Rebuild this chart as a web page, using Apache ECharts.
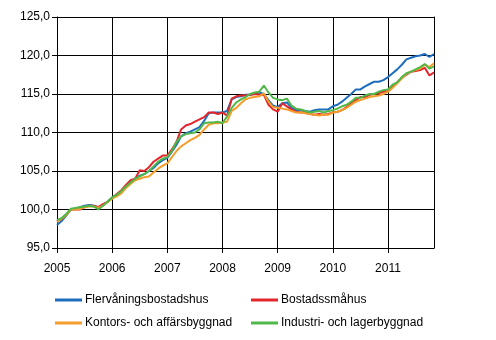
<!DOCTYPE html>
<html>
<head>
<meta charset="utf-8">
<script src="https://cdn.jsdelivr.net/npm/echarts@6/dist/echarts.min.js"></script>
<style>
  html, body { margin: 0; padding: 0; background: #fff; }
  #chart { width: 496px; height: 340px; }
</style>
</head>
<body>
<div id="chart"></div>
<script>
// Building cost index, monthly, 2005M01 - 2011M11 (2005 = 100)
const years = ['2005', '2006', '2007', '2008', '2009', '2010', '2011'];
const lastYearMonths = 11;

const flervaningsbostadshus = [
  98.0, 98.5, 99.2, 100.0, 100.1, 100.3, 100.5, 100.6, 100.5, 100.3, 100.6, 101.0,
  101.5, 101.9, 102.4, 103.0, 103.6, 104.0, 104.4, 104.6, 105.0, 105.4, 106.0, 106.4,
  106.7, 107.5, 108.4, 109.5, 109.9, 110.1, 110.4, 110.7, 111.5, 112.5, 112.6, 112.6,
  112.6, 112.8, 114.3, 114.6, 114.7, 114.9, 114.9, 115.0, 115.2, 115.0, 114.2, 113.5,
  113.3, 113.8, 113.9, 113.2, 112.9, 112.9, 112.8, 112.7, 112.9, 113.0, 113.0, 113.0,
  113.4, 113.6, 114.0, 114.5, 115.0, 115.6, 115.6, 116.0, 116.3, 116.6, 116.6, 116.8,
  117.2, 117.7, 118.2, 118.8, 119.5, 119.7, 119.9, 120.0, 120.2, 119.8, 120.2
];
const bostadssmahus = [
  98.5, 98.8, 99.3, 100.0, 100.0, 100.0, 100.3, 100.5, 100.5, 100.3, 100.7, 101.0,
  101.5, 102.0, 102.5, 103.2, 103.8, 104.0, 105.1, 105.0, 105.5, 106.2, 106.6, 107.0,
  107.0, 107.8, 108.8, 110.4, 110.9, 111.1, 111.4, 111.7, 112.0, 112.6, 112.6, 112.4,
  112.6, 112.2, 114.4, 114.7, 114.8, 114.8, 114.9, 115.0, 114.9, 114.9, 113.6, 113.0,
  112.7, 113.8, 113.4, 113.0, 112.7, 112.6, 112.6, 112.4, 112.3, 112.4, 112.3, 112.4,
  112.6, 112.7, 112.9, 113.3, 113.8, 114.2, 114.6, 114.6, 114.9, 115.0, 115.1, 115.3,
  115.4, 115.9, 116.5, 117.1, 117.5, 117.9, 118.0, 118.1, 118.4, 117.4, 117.8
];
const kontorsOchAffarsbyggnad = [
  98.4, 98.8, 99.3, 100.0, 100.0, 100.1, 100.3, 100.4, 100.4, 100.2, 100.5, 101.0,
  101.4, 101.7, 102.1, 102.8, 103.3, 103.8, 104.0, 104.2, 104.3, 104.8, 105.3, 105.7,
  106.0, 106.8, 107.6, 108.2, 108.6, 109.0, 109.3, 109.7, 110.4, 111.0, 111.2, 111.2,
  111.3, 111.4, 112.8, 113.2, 113.8, 114.3, 114.5, 114.6, 114.7, 115.1, 114.0, 113.3,
  113.2, 113.1, 113.0, 112.8, 112.6, 112.6, 112.5, 112.4, 112.3, 112.2, 112.3, 112.3,
  112.6, 112.7, 112.9, 113.2, 113.6, 114.0, 114.2, 114.4, 114.6, 114.7, 114.8, 115.0,
  115.3, 115.8, 116.4, 117.0, 117.6, 117.9, 118.1, 118.3, 118.8, 118.5, 119.0
];
const industriOchLagerbyggnad = [
  98.6, 98.9, 99.4, 100.1, 100.2, 100.3, 100.4, 100.5, 100.4, 100.0, 100.5, 101.0,
  101.6, 101.9, 102.4, 103.0, 103.5, 104.0, 104.3, 104.6, 105.0, 105.6, 106.2, 106.6,
  106.8, 107.6, 108.8, 109.5, 109.8, 109.9, 110.0, 110.4, 111.2, 111.3, 111.3, 111.4,
  111.2, 112.1, 113.2, 113.9, 114.3, 114.6, 115.0, 115.2, 115.3, 116.1, 115.2, 114.5,
  114.3, 114.2, 114.4, 113.5, 113.1, 113.0, 112.8, 112.6, 112.7, 112.8, 112.6, 112.8,
  112.9, 113.1, 113.4, 113.6, 114.0, 114.5, 114.5, 114.8, 115.0, 115.0, 115.3, 115.5,
  115.6, 116.2, 116.5, 117.2, 117.7, 117.9, 118.2, 118.5, 118.9, 118.3, 118.6
];

const seriesNames = [
  'Flervåningsbostadshus',
  'Bostadssmåhus',
  'Kontors- och affärsbyggnad',
  'Industri- och lagerbyggnad'
];
const seriesColors = ['#1c6dbd', '#e2262b', '#f59d2a', '#50b848'];
const seriesValues = [
  flervaningsbostadshus,
  bostadssmahus,
  kontorsOchAffarsbyggnad,
  industriOchLagerbyggnad
];

// Month categories, e.g. "2005M01"
const categories = [];
years.forEach((y, i) => {
  const n = i === years.length - 1 ? lastYearMonths : 12;
  for (let m = 1; m <= n; m++) categories.push(y + 'M' + String(m).padStart(2, '0'));
});
const atYearStart = (idx) => idx % 12 === 0;

const font = 'Liberation Sans, Arial, sans-serif';
const chart = echarts.init(document.getElementById('chart'), null, { renderer: 'canvas' });

const legendBase = {
  orient: 'vertical', top: 294, padding: 0,
  itemWidth: 27, itemHeight: 3, itemGap: 11,
  icon: 'rect',
  textStyle: { color: '#000', fontFamily: font, fontSize: 12, padding: [0, 0, 0, -2] }
};

chart.setOption({
  animation: false,
  backgroundColor: '#ffffff',
  grid: { left: 57, right: 62, top: 17, bottom: 92, containLabel: false },
  xAxis: {
    type: 'category',
    data: categories,
    boundaryGap: false,
    axisLine: { show: true, lineStyle: { color: '#000', width: 1 } },
    axisTick: { show: true, inside: false, length: 5, interval: atYearStart, lineStyle: { color: '#000' } },
    axisLabel: {
      interval: atYearStart,
      formatter: (v) => v.slice(0, 4),
      color: '#000', fontFamily: font, fontSize: 12, margin: 15
    },
    splitLine: { show: true, interval: atYearStart, lineStyle: { color: '#000', width: 1 } }
  },
  yAxis: [
    {
      type: 'value',
      min: 95, max: 125, interval: 5,
      axisLine: { show: true, lineStyle: { color: '#000', width: 1 } },
      axisTick: { show: true, inside: false, length: 5, lineStyle: { color: '#000' } },
      axisLabel: {
        formatter: (v) => v.toFixed(1).replace('.', ','),
        color: '#000', fontFamily: font, fontSize: 12, margin: 7
      },
      splitLine: { show: true, lineStyle: { color: '#000', width: 1 } }
    },
    {
      // right-hand frame edge
      type: 'value', position: 'right',
      min: 95, max: 125, interval: 5,
      axisLine: { show: true, lineStyle: { color: '#000', width: 1 } },
      axisTick: { show: false },
      axisLabel: { show: false },
      splitLine: { show: false }
    }
  ],
  legend: [
    Object.assign({}, legendBase, { left: 55, data: [seriesNames[0], seriesNames[2]] }),
    Object.assign({}, legendBase, { left: 251, data: [seriesNames[1], seriesNames[3]] })
  ],
  series: seriesNames.map((name, i) => ({
    name,
    type: 'line',
    data: seriesValues[i],
    showSymbol: false,
    symbol: 'none',
    color: seriesColors[i],
    lineStyle: { width: 2, color: seriesColors[i] },
    z: 2 + i
  }))
});
</script>
</body>
</html>
